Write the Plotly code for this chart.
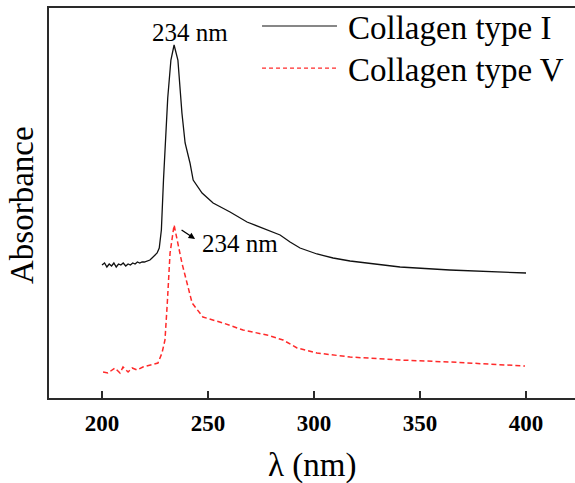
import plotly.graph_objects as go

# Collagen type I (black, solid)
wl_I = [200, 201.2, 202.3, 203.4, 204.5, 205.6, 206.7, 207.8, 208.9, 210, 211.2, 212.3, 213.4, 214.5,
        215.6, 216.7, 217.8, 218.9, 220, 222.6, 223.6, 226, 227, 228, 229, 231, 232.5, 234, 235.8,
        237.7, 239.2, 241.5, 243, 247.2, 252.4, 260.4, 268.4, 275.9, 284, 288.7, 293.4, 301.4, 309,
        317, 340.6, 364, 400]
abs_I = [1.33, 1.35, 1.31, 1.34, 1.32, 1.35, 1.31, 1.34, 1.33, 1.35, 1.32, 1.34, 1.33, 1.35,
         1.34, 1.36, 1.35, 1.36, 1.36, 1.38, 1.40, 1.45, 1.50, 1.68, 2.18, 3.00, 3.38, 3.53, 3.38,
         2.85, 2.55, 2.35, 2.18, 2.05, 1.95, 1.86, 1.76, 1.70, 1.63, 1.56, 1.50, 1.44, 1.40,
         1.37, 1.31, 1.28, 1.25]

# Collagen type V (red, dashed)
wl_V = [200.5, 202.8, 206.1, 208.5, 209.9, 212.3, 214.2, 216.5, 219.3, 222.6, 226.4, 228.3, 229.7,
        230.8, 232.1, 234, 237.7, 242.5, 247.6, 257.1, 266.5, 277.8, 285.4, 292, 301.4, 317,
        340.6, 364, 399.5]
abs_V = [0.26, 0.25, 0.30, 0.25, 0.31, 0.26, 0.30, 0.28, 0.31, 0.33, 0.35, 0.45, 0.58,
         0.95, 1.45, 1.73, 1.35, 0.95, 0.81, 0.75, 0.68, 0.63, 0.58, 0.50, 0.45, 0.41,
         0.38, 0.36, 0.32]

x_ticks = [200, 250, 300, 350, 400]
series_names = ["Collagen type I", "Collagen type V"]
peak_label = "234 nm"

FONT = "Liberation Serif, Times New Roman, serif"
RED = "#ff2a2a"

fig = go.Figure()
fig.add_trace(go.Scatter(x=wl_I, y=abs_I, mode="lines", name=series_names[0],
                         line=dict(color="#111111", width=1.3), showlegend=False))
fig.add_trace(go.Scatter(x=wl_V, y=abs_V, mode="lines", name=series_names[1],
                         line=dict(color=RED, width=1.5, dash="5px,3px"), showlegend=False))

annotations = [
    dict(x=241.5, y=3.66, xref="x", yref="y", text=peak_label, showarrow=False,
         font=dict(family=FONT, size=25, color="black")),
    dict(x=265.1, y=1.55, xref="x", yref="y", text=peak_label, showarrow=False,
         font=dict(family=FONT, size=25, color="black")),
    dict(x=243.9, y=1.59, xref="x", yref="y", text="", showarrow=True, ax=-15, ay=-10,
         arrowhead=2, arrowsize=1, arrowwidth=1.3, arrowcolor="black"),
    dict(x=-0.0513, y=0.495, xref="paper", yref="paper", text="Absorbance", textangle=-90,
         showarrow=False, xanchor="center", yanchor="middle",
         font=dict(family=FONT, size=33, color="black")),
    dict(x=0.5, y=-0.174, xref="paper", yref="paper", text="λ (nm)", showarrow=False,
         xanchor="center", yanchor="middle", font=dict(family=FONT, size=33, color="black")),
    # legend texts
    dict(x=0.5646, y=0.9487, xref="paper", yref="paper", text=series_names[0], showarrow=False,
         xanchor="left", yanchor="middle", font=dict(family=FONT, size=33, color="black")),
    dict(x=0.5646, y=0.841, xref="paper", yref="paper", text=series_names[1], showarrow=False,
         xanchor="left", yanchor="middle", font=dict(family=FONT, size=33, color="black")),
]

shapes = [
    dict(type="line", xref="paper", yref="paper", x0=0.405, x1=0.5475, y0=0.9538, y1=0.9538,
         line=dict(color="#111111", width=1.2)),
    dict(type="line", xref="paper", yref="paper", x0=0.405, x1=0.5475, y0=0.846, y1=0.846,
         line=dict(color=RED, width=1.2, dash="4px,3px")),
]

fig.update_layout(
    width=575, height=483,
    margin=dict(l=49, r=0, t=8, b=85),
    plot_bgcolor="white", paper_bgcolor="white",
    annotations=annotations, shapes=shapes,
    showlegend=False,
)
fig.update_xaxes(range=[175, 423.1], tickvals=x_ticks, ticktext=[f"<b>{v}</b>" for v in x_ticks],
                 showgrid=False, zeroline=False, showline=True, linecolor="#2a2a2a", linewidth=2,
                 mirror=True, ticks="inside", ticklen=7, tickwidth=2, tickcolor="#2a2a2a",
                 tickfont=dict(family=FONT, size=23, color="black"),
                 ticklabelstandoff=3)
fig.update_yaxes(range=[0, 3.9], showgrid=False, zeroline=False, showline=True,
                 linecolor="#2a2a2a", linewidth=2, mirror=False, ticks="",
                 showticklabels=False)

fig.write_html("out.html")
